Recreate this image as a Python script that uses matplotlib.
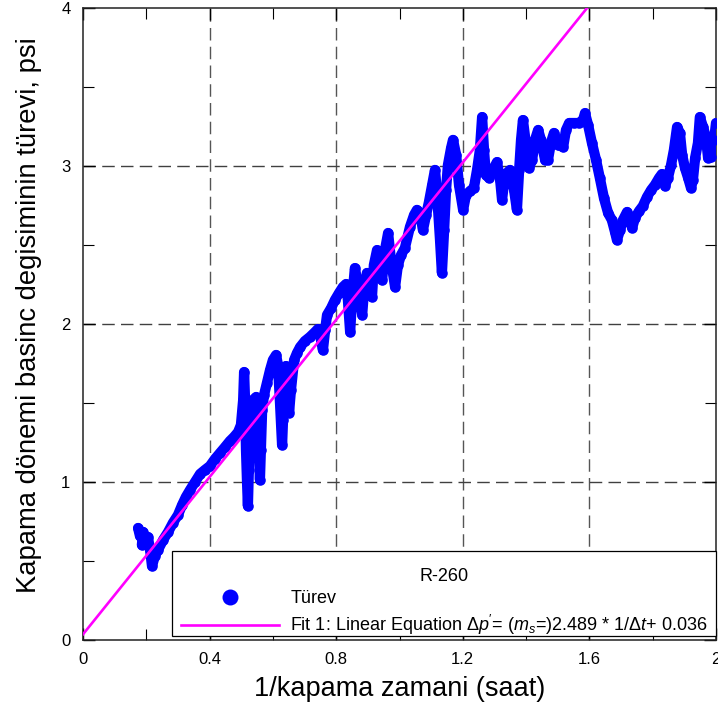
import matplotlib
matplotlib.use("Agg")
import matplotlib.pyplot as plt
from matplotlib.lines import Line2D
from matplotlib.patches import Rectangle
import numpy as np

plt.rcParams["font.family"] = ["Liberation Sans", "DejaVu Sans"]
plt.rcParams["mathtext.fontset"] = "custom"
plt.rcParams["mathtext.rm"] = "Liberation Sans"
plt.rcParams["mathtext.it"] = "Liberation Sans:italic"

# Derivative of shut-in pressure change vs. reciprocal shut-in time (well R-260)
inv_time = [
    0.174, 0.180, 0.190, 0.186, 0.199, 0.205, 0.212, 0.218, 0.227, 0.237,
    0.253, 0.269, 0.284, 0.300, 0.313, 0.325, 0.338, 0.354, 0.370, 0.385,
    0.401, 0.417, 0.433, 0.449, 0.464, 0.477, 0.490, 0.499, 0.506, 0.509,
    0.512, 0.515, 0.518, 0.521, 0.524, 0.528, 0.531, 0.537, 0.547, 0.553,
    0.556, 0.559, 0.562, 0.566, 0.572, 0.581, 0.591, 0.600, 0.610, 0.616,
    0.622, 0.629, 0.632, 0.638, 0.641, 0.648, 0.651, 0.657, 0.667, 0.676,
    0.686, 0.701, 0.717, 0.733, 0.742, 0.752, 0.758, 0.765, 0.771, 0.784,
    0.796, 0.809, 0.821, 0.831, 0.837, 0.844, 0.850, 0.859, 0.869, 0.882,
    0.888, 0.897, 0.907, 0.913, 0.919, 0.929, 0.938, 0.945, 0.954, 0.964,
    0.973, 0.986, 0.995, 1.005, 1.017, 1.033, 1.046, 1.055, 1.065, 1.074,
    1.084, 1.093, 1.103, 1.112, 1.118, 1.122, 1.128, 1.134, 1.141, 1.147,
    1.153, 1.163, 1.169, 1.179, 1.188, 1.201, 1.210, 1.223, 1.235, 1.245,
    1.254, 1.261, 1.267, 1.273, 1.283, 1.295, 1.308, 1.318, 1.324, 1.333,
    1.349, 1.362, 1.371, 1.378, 1.384, 1.390, 1.400, 1.409, 1.419, 1.428,
    1.438, 1.447, 1.460, 1.469, 1.479, 1.488, 1.501, 1.517, 1.526, 1.536,
    1.551, 1.567, 1.580, 1.586, 1.596, 1.608, 1.621, 1.633, 1.646, 1.659,
    1.671, 1.681, 1.687, 1.697, 1.706, 1.719, 1.728, 1.735, 1.744, 1.757,
    1.769, 1.782, 1.795, 1.807, 1.820, 1.829, 1.839, 1.848, 1.858, 1.867,
    1.877, 1.886, 1.893, 1.902, 1.912, 1.921, 1.927, 1.934, 1.943, 1.949,
    1.959, 1.968, 1.975, 1.984, 1.994, 2.000,
]
derivative = [
    0.709, 0.658, 0.684, 0.601, 0.633, 0.652, 0.570, 0.468, 0.532, 0.570,
    0.633, 0.684, 0.741, 0.791, 0.854, 0.905, 0.949, 1.000, 1.051, 1.076,
    1.101, 1.146, 1.184, 1.222, 1.259, 1.285, 1.316, 1.361, 1.519, 1.696,
    1.519, 1.203, 1.013, 0.848, 1.076, 1.329, 1.456, 1.519, 1.538, 1.392,
    1.203, 1.013, 1.203, 1.456, 1.551, 1.627, 1.709, 1.772, 1.804, 1.741,
    1.519, 1.234, 1.392, 1.677, 1.734, 1.646, 1.437, 1.582, 1.772, 1.816,
    1.854, 1.892, 1.918, 1.949, 1.968, 1.899, 1.835, 1.962, 2.057, 2.101,
    2.152, 2.196, 2.234, 2.253, 2.152, 1.949, 2.152, 2.354, 2.247, 2.057,
    2.215, 2.323, 2.247, 2.171, 2.373, 2.468, 2.392, 2.278, 2.468, 2.576,
    2.405, 2.234, 2.373, 2.437, 2.481, 2.614, 2.690, 2.722, 2.703, 2.595,
    2.690, 2.772, 2.880, 2.975, 2.848, 2.722, 2.532, 2.323, 2.595, 2.848,
    3.006, 3.114, 3.165, 3.070, 2.880, 2.722, 2.816, 2.842, 2.861, 2.975,
    3.101, 3.310, 3.101, 2.943, 2.924, 2.975, 3.025, 2.911, 2.785, 2.943,
    2.975, 2.848, 2.722, 2.975, 3.165, 3.291, 3.133, 2.987, 3.038, 3.165,
    3.228, 3.165, 3.038, 3.038, 3.152, 3.209, 3.133, 3.120, 3.228, 3.272,
    3.272, 3.272, 3.291, 3.335, 3.259, 3.146, 3.038, 2.924, 2.797, 2.703,
    2.658, 2.582, 2.532, 2.595, 2.658, 2.709, 2.658, 2.608, 2.671, 2.715,
    2.747, 2.804, 2.848, 2.880, 2.924, 2.949, 2.873, 2.924, 3.006, 3.101,
    3.247, 3.209, 3.070, 2.987, 2.924, 2.861, 2.911, 3.051, 3.146, 3.310,
    3.247, 3.184, 3.051, 3.057, 3.165, 3.272,
]

# Linear fit parameters shown in the legend
fit_slope = 2.489
fit_intercept = 0.036

x_ticks = [0, 0.4, 0.8, 1.2, 1.6, 2]
x_tick_labels = ["0", "0.4", "0.8", "1.2", "1.6", "2"]
y_ticks = [0, 1, 2, 3, 4]
y_tick_labels = ["0", "1", "2", "3", "4"]

fig = plt.figure(figsize=(7.18, 7.04), dpi=100)
ax = fig.add_axes([83 / 718, 64 / 704, 633 / 718, 632 / 704])

ax.set_xlim(0, 2)
ax.set_ylim(0, 4)

# dashed grid at major ticks
for xv in x_ticks[1:-1]:
    ax.axvline(xv, color="#555555", lw=1.0, ls=(0, (9, 4.5)), zorder=1)
for yv in y_ticks[1:-1]:
    ax.axhline(yv, color="#404040", lw=1.0, ls=(0, (9, 4.5)), zorder=1)

ax.plot(inv_time, derivative, color="#0000FF", lw=7.4, marker="o", ms=7.6,
        markeredgewidth=0, solid_joinstyle="round", solid_capstyle="round",
        zorder=3)

fit_x = np.array([0.0, 2.0])
ax.plot(fit_x, fit_slope * fit_x + fit_intercept, color="#FF00FF", lw=1.9,
        zorder=4)

ax.set_xticks(x_ticks)
ax.set_xticklabels(x_tick_labels)
ax.set_yticks(y_ticks)
ax.set_yticklabels(y_tick_labels)
ax.set_xticks(np.arange(0.2, 2.0, 0.4), minor=True)
ax.set_yticks(np.arange(0.5, 4.0, 1.0), minor=True)
ax.tick_params(which="both", direction="in", top=True, right=True,
               labelsize=12, colors="black")
ax.tick_params(which="major", length=8.5, width=1.0, pad=9)
ax.tick_params(which="minor", length=8.0, width=0.8)
for sp in ax.spines.values():
    sp.set_linewidth(1.1)
    sp.set_color("#222222")

ax.set_xlabel("1/kapama zamani (saat)", fontsize=19.5)
ax.xaxis.set_label_coords(0.5, -0.057)
ax.set_ylabel("Kapama dönemi basinc degisiminin türevi, psi", fontsize=19.7)
ax.yaxis.set_label_coords(-0.064, 0.514)

# legend box: white frame with the entries placed inside it
frame = Rectangle((0.1406, 0.0063), 1.0 - 0.1406, 0.1345,
                  transform=ax.transAxes, facecolor="white",
                  edgecolor="black", lw=0.9, clip_on=False, zorder=5.5)
ax.add_patch(frame)

handles = [
    Line2D([], [], ls="none", marker="o", ms=11.5, color="#0000FF",
           markeredgewidth=0),
    Line2D([], [], color="#FF00FF", lw=1.9),
]
labels = [
    "Türev",
    r"Fit 1: Linear Equation $\Delta p'$= ($m_s$=)2.489 * 1/$\Delta t$+ 0.036",
]
leg = ax.legend(handles, labels, title="\nR-260", loc="lower left",
                bbox_to_anchor=((181 - 83) / 633, 0.005, (708 - 181) / 633,
                                0.13),
                mode="expand", fontsize=13, title_fontsize=13, frameon=False,
                borderpad=0, labelspacing=0.3, handlelength=5.4,
                handletextpad=0.65, borderaxespad=0)
leg.get_title().set_linespacing(0.75)
leg.set_zorder(6)

fig.savefig("out.png", dpi=100)
